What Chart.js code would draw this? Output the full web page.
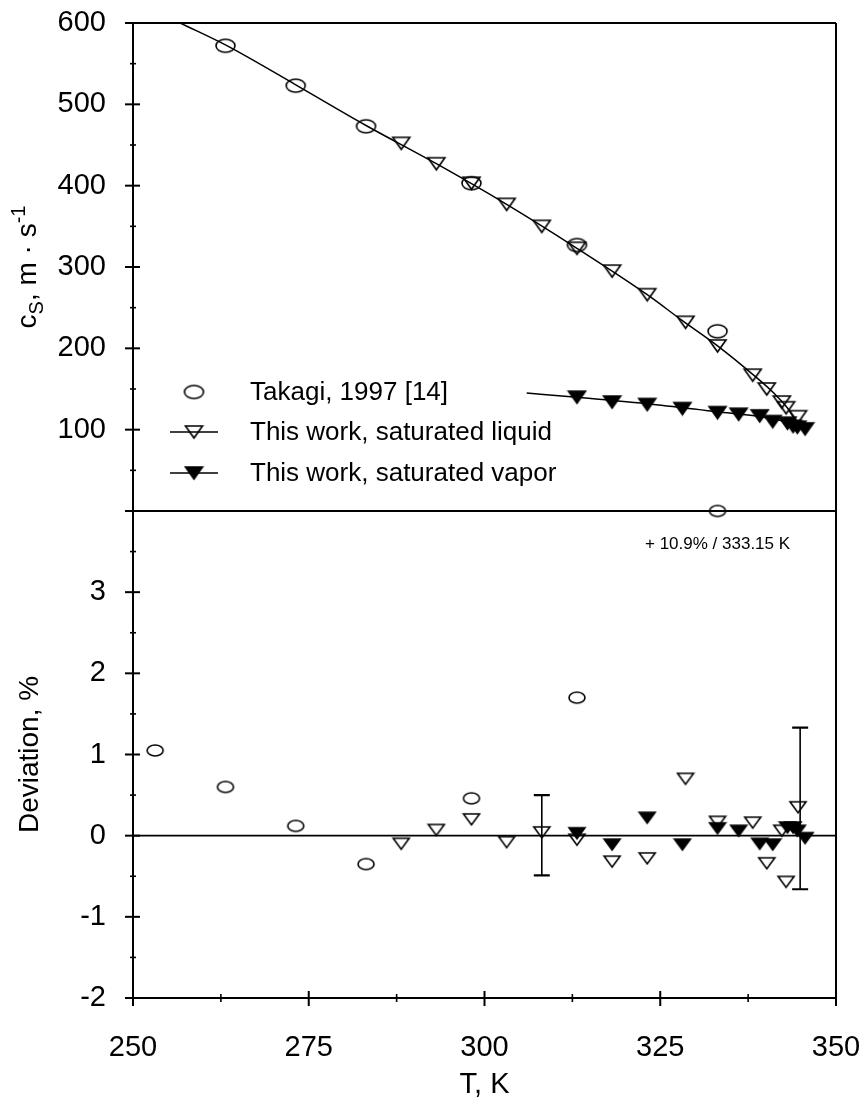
<!DOCTYPE html>
<html><head><meta charset="utf-8">
<script src="https://cdn.jsdelivr.net/npm/chart.js@4.4.0/dist/chart.umd.min.js"></script>
<style>
html,body{margin:0;padding:0;background:#fff;}
#wrap{position:relative;width:863px;height:1101px;}
#wrap canvas{position:absolute;left:0;top:0;}
</style>
</head><body>
<div id="wrap"><canvas id="cTop" width="863" height="1101"></canvas><canvas id="cBot" width="863" height="1101"></canvas></div>
<script>
// ---------- data ----------
const seriesLabels = ['Takagi, 1997 [14]', 'This work, saturated liquid', 'This work, saturated vapor'];
const takagiT   = [253.15, 263.15, 273.15, 283.15, 298.15, 313.15, 333.15];
const takagiC   = [null, 572, 523, 473, 403, 327, 221];
const takagiDev = [1.05, 0.60, 0.12, -0.35, 0.46, 1.70, 10.9];

const liquidT   = [288.15, 293.15, 298.15, 303.15, 308.15, 313.15, 318.15, 323.15, 328.6, 333.15, 338.15, 340.15, 342.3, 342.9, 344.6];
const liquidC   = [452, 427, 403, 377, 350, 323, 295, 266, 232, 203, 167, 150, 134, 127, 116];
const liquidDev = [-0.10, 0.07, 0.20, -0.08, 0.04, -0.05, -0.32, -0.28, 0.70, 0.17, 0.16, -0.34, 0.06, -0.57, 0.35];

const vaporT    = [313.15, 318.15, 323.15, 328.15, 333.15, 336.15, 339.15, 341.0, 343.1, 343.9, 344.5, 345.6];
const vaporC    = [140, 134, 131, 126, 121, 119, 117, 110, 108, 104, 103, 101];
const vaporDev  = [0.03, -0.11, 0.22, -0.11, 0.09, 0.06, -0.10, -0.11, 0.10, 0.10, 0.06, -0.03];

const liquidFitT = [256.7, 263.15, 273.15, 283.15, 293.15, 303.15, 313.15, 323.15, 328.15, 333.15, 338.15, 341.15, 343.15, 344.8];
const liquidFitC = [600, 573, 524, 474, 427, 377, 323, 266, 234, 203, 168, 145, 126, 103];
const vaporFitT  = [306.0, 313.15, 323.15, 333.15, 339.15, 343.15, 345.3];
const vaporFitC  = [145, 140, 132, 122, 116, 109, 101];

const errT    = [308.15, 344.9];
const errLow  = [-0.49, -0.66];
const errHigh = [0.50, 1.33];

const xTicks = [250, 275, 300, 325, 350];
const cTicks = [100, 200, 300, 400, 500, 600];
const devTicks = [-2, -1, 0, 1, 2, 3];

const X_MIN = 250, X_MAX = 350, C_MIN = 0, C_MAX = 600, D_MIN = -2, D_MAX = 4;

// ---------- helpers ----------
const FONT = '"Liberation Sans", Arial, sans-serif';
function pts(xs, ys) { return xs.map((x, i) => ({x: x, y: ys[i]})).filter(p => p.y !== null); }

function marker(kind, w, h, fill) {
  const pad = 2;
  const c = document.createElement('canvas');
  c.width = Math.ceil(w + 2 * pad); c.height = Math.ceil(h + 2 * pad);
  const g = c.getContext('2d');
  g.lineWidth = 1.6; g.strokeStyle = '#000'; g.fillStyle = '#000';
  g.beginPath();
  if (kind === 'ellipse') {
    g.ellipse(c.width / 2, c.height / 2, w / 2, h / 2, 0, 0, Math.PI * 2);
    g.stroke();
  } else {
    g.moveTo(pad, pad); g.lineTo(pad + w, pad); g.lineTo(c.width / 2, pad + h); g.closePath();
    if (fill) g.fill();
    g.stroke();
  }
  return c;
}
const mCircT = marker('ellipse', 19, 13), mTriT = marker('tri', 17, 12, false), mTriFT = marker('tri', 17, 12, true);
const mCircB = marker('ellipse', 16, 11), mTriB = marker('tri', 16, 11, false), mTriFB = marker('tri', 16, 11, true);

function drawFrame(chart, o) {
  const ctx = chart.ctx, a = chart.chartArea;
  const L = a.left, R = a.right, T = a.top, B = a.bottom;
  const ys = chart.scales.y, xs = chart.scales.x;
  ctx.save();
  ctx.strokeStyle = '#000'; ctx.lineWidth = 2; ctx.lineCap = 'butt';
  const seg = (x1, y1, x2, y2) => { ctx.beginPath(); ctx.moveTo(x1, y1); ctx.lineTo(x2, y2); ctx.stroke(); };
  seg(L, T, L, B);
  seg(R, T, R, B + (o.bottomAxis ? 8 : 0));
  seg(L - 8, T, R, T);
  seg(L - 8, B, R, B);
  o.yMajor.forEach(v => { const p = ys.getPixelForValue(v); seg(L - 8, p, L + 7, p); });
  ctx.lineWidth = 1.6;
  o.yMinor.forEach(v => { const p = ys.getPixelForValue(v); seg(L - 3, p, L + 3, p); });
  if (o.bottomAxis) {
    ctx.lineWidth = 2;
    xTicks.forEach(v => { const p = xs.getPixelForValue(v); seg(p, B - 7, p, B + 8); });
    ctx.lineWidth = 1.6;
    [262.5, 287.5, 312.5, 337.5].forEach(v => { const p = xs.getPixelForValue(v); seg(p, B - 4, p, B + 4); });
  }
  ctx.restore();
}

function fixSize(s, prop, val) {
  s[prop] = val;
  s.paddingTop = 0; s.paddingBottom = 0; s.paddingLeft = 0; s.paddingRight = 0;
}

const commonX = {
  type: 'linear', min: X_MIN, max: X_MAX,
  grid: {display: false, drawTicks: false}, border: {display: false}
};
const TICK_FONT = {family: FONT, size: 29};

// ---------- top chart ----------
new Chart(document.getElementById('cTop'), {
  type: 'scatter',
  data: {datasets: [
    {label: seriesLabels[0], data: pts(takagiT, takagiC), pointStyle: mCircT, pointRadius: 6, showLine: false, order: 1},
    {label: seriesLabels[1], data: pts(liquidT, liquidC), pointStyle: mTriT, pointRadius: 6, showLine: false, order: 2},
    {label: seriesLabels[2], data: pts(vaporT, vaporC), pointStyle: mTriFT, pointRadius: 6, showLine: false, order: 0},
    {label: 'liquid fit', data: pts(liquidFitT, liquidFitC), showLine: true, pointRadius: 0, borderColor: '#000', borderWidth: 1.5, cubicInterpolationMode: 'monotone', order: 5},
    {label: 'vapor fit', data: pts(vaporFitT, vaporFitC), showLine: true, pointRadius: 0, borderColor: '#000', borderWidth: 1.5, cubicInterpolationMode: 'monotone', order: 5}
  ]},
  options: {
    responsive: false, animation: false, devicePixelRatio: 1, events: [],
    layout: {padding: {left: 0, right: 27, top: 23, bottom: 1101 - 511}},
    plugins: {legend: {display: false}, tooltip: {enabled: false}},
    scales: {
      x: Object.assign({}, commonX, {display: false}),
      y: {
        type: 'linear', min: C_MIN, max: C_MAX,
        afterFit: s => fixSize(s, 'width', 133),
        afterBuildTicks: s => { s.ticks = cTicks.map(v => ({value: v})); },
        ticks: {font: TICK_FONT, color: '#000', padding: 27},
        grid: {display: false, drawTicks: false}, border: {display: false}
      }
    }
  },
  plugins: [{
    id: 'topDeco',
    afterDraw(chart) {
      drawFrame(chart, {yMajor: [100, 200, 300, 400, 500], yMinor: [50, 150, 250, 350, 450, 550], bottomAxis: false});
      const ctx = chart.ctx;
      ctx.save();
      // legend
      const rows = [{y: 392, img: mCircT, line: false}, {y: 432, img: mTriT, line: true}, {y: 473, img: mTriFT, line: true}];
      rows.forEach((r, i) => {
        if (r.line) { ctx.strokeStyle = '#000'; ctx.lineWidth = 1.5; ctx.beginPath(); ctx.moveTo(170, r.y); ctx.lineTo(218, r.y); ctx.stroke(); }
        ctx.drawImage(r.img, 194 - r.img.width / 2, r.y - r.img.height / 2);
        ctx.fillStyle = '#000'; ctx.font = '26px ' + FONT; ctx.textBaseline = 'middle'; ctx.textAlign = 'left';
        ctx.fillText(seriesLabels[i], 250, r.y + 1);
      });
      // y title with subscript/superscript
      const parts = [{t: 'c', s: 28, dy: 0}, {t: 'S', s: 20, dy: 7}, {t: ', m \u00b7 s', s: 28, dy: 0}, {t: '-1', s: 20, dy: -11}];
      let total = 0;
      parts.forEach(p => { ctx.font = p.s + 'px ' + FONT; p.w = ctx.measureText(p.t).width; total += p.w; });
      const a = chart.chartArea;
      ctx.translate(36, (a.top + a.bottom) / 2);
      ctx.rotate(-Math.PI / 2);
      ctx.textBaseline = 'alphabetic'; ctx.textAlign = 'left';
      let x = -total / 2;
      parts.forEach(p => { ctx.font = p.s + 'px ' + FONT; ctx.fillText(p.t, x, p.dy); x += p.w; });
      ctx.restore();
    }
  }]
});

// ---------- bottom chart ----------
new Chart(document.getElementById('cBot'), {
  type: 'scatter',
  data: {datasets: [
    {label: seriesLabels[0], data: takagiT.map((t, i) => ({x: t, y: Math.min(takagiDev[i], D_MAX)})), pointStyle: mCircB, pointRadius: 6, showLine: false, clip: false, order: 1},
    {label: seriesLabels[1], data: pts(liquidT, liquidDev), pointStyle: mTriB, pointRadius: 6, showLine: false, order: 2},
    {label: seriesLabels[2], data: pts(vaporT, vaporDev), pointStyle: mTriFB, pointRadius: 6, showLine: false, order: 0},
    {label: 'zero', data: [{x: X_MIN, y: 0}, {x: X_MAX, y: 0}], showLine: true, pointRadius: 0, borderColor: '#000', borderWidth: 1.8, order: 5}
  ]},
  options: {
    responsive: false, animation: false, devicePixelRatio: 1, events: [],
    layout: {padding: {left: 0, right: 27, top: 511, bottom: 0}},
    plugins: {legend: {display: false}, tooltip: {enabled: false}},
    scales: {
      x: Object.assign({}, commonX, {
        display: true,
        afterFit: s => fixSize(s, 'height', 1101 - 998),
        afterBuildTicks: s => { s.ticks = xTicks.map(v => ({value: v})); },
        ticks: {font: TICK_FONT, color: '#000', padding: 33, maxRotation: 0, autoSkip: false}
      }),
      y: {
        type: 'linear', min: D_MIN, max: D_MAX,
        afterFit: s => fixSize(s, 'width', 133),
        afterBuildTicks: s => { s.ticks = devTicks.map(v => ({value: v})); },
        ticks: {font: TICK_FONT, color: '#000', padding: 27},
        grid: {display: false, drawTicks: false}, border: {display: false}
      }
    }
  },
  plugins: [{
    id: 'botDeco',
    afterDatasetsDraw(chart) {
      const ctx = chart.ctx, xs = chart.scales.x, ys = chart.scales.y;
      ctx.save();
      ctx.strokeStyle = '#000'; ctx.lineWidth = 1.6;
      errT.forEach((t, i) => {
        const px = xs.getPixelForValue(t), y1 = ys.getPixelForValue(errHigh[i]), y2 = ys.getPixelForValue(errLow[i]);
        ctx.beginPath(); ctx.moveTo(px, y1); ctx.lineTo(px, y2); ctx.stroke();
        ctx.lineWidth = 2.2;
        ctx.beginPath(); ctx.moveTo(px - 8, y1); ctx.lineTo(px + 8, y1); ctx.moveTo(px - 8, y2); ctx.lineTo(px + 8, y2); ctx.stroke();
        ctx.lineWidth = 1.6;
      });
      ctx.restore();
    },
    afterDraw(chart) {
      drawFrame(chart, {yMajor: [-1, 0, 1, 2, 3], yMinor: [-1.5, -0.5, 0.5, 1.5, 2.5, 3.5], bottomAxis: true});
      const ctx = chart.ctx, a = chart.chartArea, xs = chart.scales.x;
      ctx.save();
      ctx.fillStyle = '#000';
      // off-scale annotation
      ctx.font = '17px ' + FONT; ctx.textAlign = 'center'; ctx.textBaseline = 'middle';
      ctx.fillText('+ 10.9% / 333.15 K', xs.getPixelForValue(takagiT[6]), a.top + 33);
      // x title
      ctx.font = '29px ' + FONT;
      ctx.fillText('T, K', (a.left + a.right) / 2, 1085);
      // y title
      ctx.font = '28px ' + FONT;
      ctx.translate(38, (a.top + a.bottom) / 2);
      ctx.rotate(-Math.PI / 2);
      ctx.textBaseline = 'alphabetic';
      ctx.fillText('Deviation, %', 0, 0);
      ctx.restore();
    }
  }]
});
</script>
</body></html>
